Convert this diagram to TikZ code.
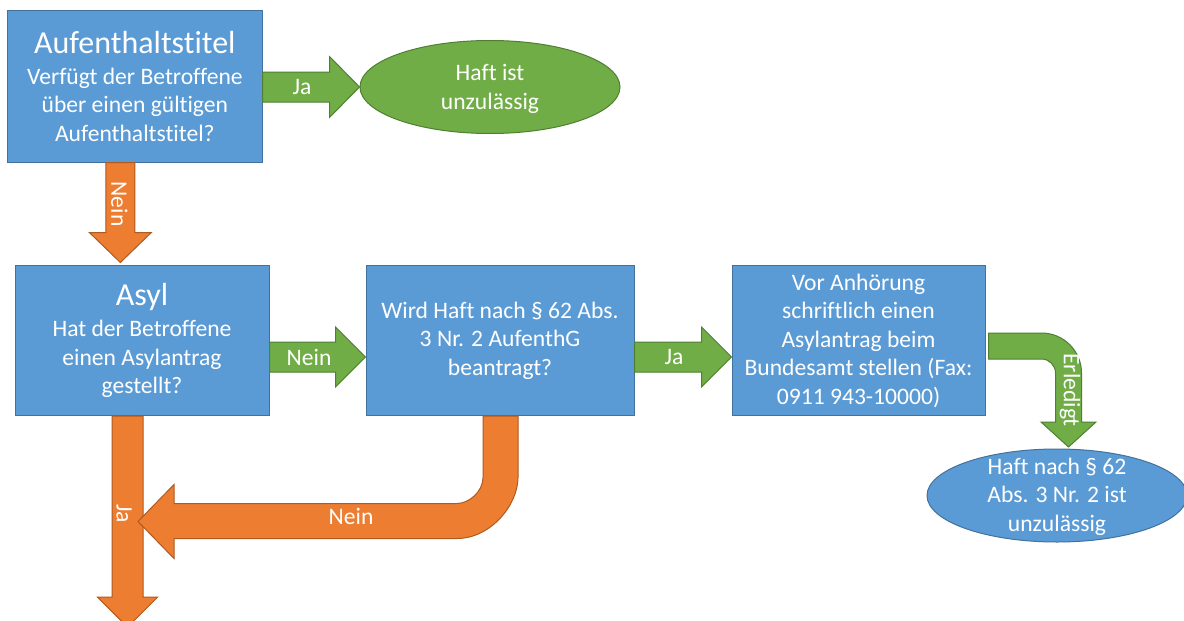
\documentclass[tikz,border=0pt]{standalone}
\usepackage{fontspec}
\setmainfont{Carlito}[Ligatures=NoCommon]
\usetikzlibrary{shapes.geometric,calc}
\definecolor{boxblue}{HTML}{5B9BD5}
\definecolor{boxblueline}{HTML}{41719C}
\definecolor{okgreen}{HTML}{70AD47}
\definecolor{okgreenline}{HTML}{507E32}
\definecolor{noorange}{HTML}{ED7D31}
\definecolor{noorangeline}{HTML}{AE5A21}

% straight block arrow pointing right: style, from, tip, half shaft, half head, head length
\newcommand{\blockright}[6]{%
  \draw[#1] let \p1=(#2), \p2=(#3) in
    (\x1,\y2-#4) -- (\x2-#6,\y2-#4) -- (\x2-#6,\y2-#5) -- (\x2,\y2)
    -- (\x2-#6,\y2+#5) -- (\x2-#6,\y2+#4) -- (\x1,\y2+#4) -- cycle;}
% straight block arrow pointing down: style, from, tip, half shaft, half head, head length
\newcommand{\blockdown}[6]{%
  \draw[#1] let \p1=(#2), \p2=(#3) in
    (\x2-#4,\y1) -- (\x2-#4,\y2+#6) -- (\x2-#5,\y2+#6) -- (\x2,\y2)
    -- (\x2+#5,\y2+#6) -- (\x2+#4,\y2+#6) -- (\x2+#4,\y1) -- cycle;}

\begin{document}
\begin{tikzpicture}[x=1pt,y=-1pt,
  body/.style={font=\fontsize{23.6}{28.5}\selectfont, text=white},
  question/.style={body, rectangle, draw=boxblueline, fill=boxblue, line width=1pt,
    align=center, inner sep=0pt},
  verdict/.style={ellipse, draw=#1line, fill=#1, line width=1pt, inner sep=0pt,
    minimum width=260pt, minimum height=93pt},
  textonly/.style={body, align=center, inner sep=0pt},
  greenarrow/.style={fill=okgreen, draw=okgreenline, line width=1pt},
  orangearrow/.style={fill=noorange, draw=noorangeline, line width=1pt},
  tag/.style={body, inner sep=0pt},
]
\useasboundingbox[fill=white] (0,0) rectangle (1184,621);

% question boxes
\node[question, minimum width=254.3pt, minimum height=151.3pt] (auf) at (134.85,86.35)
  {{\fontsize{32}{34}\selectfont Aufenthaltstitel}\\[2.5pt]
   Verfügt der Betroffene\\ über einen gültigen\\ Aufenthaltstitel?};
\node[question, minimum width=254pt, minimum height=150pt] (asyl) at (142,340.7)
  {{\fontsize{32}{34}\selectfont Asyl}\\[2.5pt]
   Hat der Betroffene\\ einen Asylantrag\\ gestellt?};
\node[question, minimum width=268pt, minimum height=150pt] (haft) at (500,340.7)
  {Wird Haft nach § 62 Abs.\\ 3 Nr. 2 AufenthG\\ beantragt?};
\node[question, minimum width=253pt, minimum height=150pt] (bamf) at (858.5,340.7)
  {Vor Anhörung\\ schriftlich einen\\ Asylantrag beim\\ Bundesamt stellen (Fax:\\ 0911 943-10000)};

% outcomes
\node[verdict=okgreen] (frei) at (490,87) {};
\node[textonly] (freitext) at (490,89) {Haft ist\\ unzulässig};
\node[verdict=boxblue] (unzul) at (1057,495.5) {};
\node[textonly] (unzultext) at (1057,496.5) {Haft nach § 62\\ Abs. 3 Nr. 2 ist\\ unzulässig};

% straight block arrows
\blockright{greenarrow}{auf.east}{frei.west}{15pt}{30.5pt}{30pt}
\blockright{greenarrow}{[yshift=-16.3pt]asyl.east}{[yshift=-16.3pt]haft.west}{15pt}{30pt}{30pt}
\blockright{greenarrow}{[yshift=-16.3pt]haft.east}{[yshift=-16.3pt]bamf.west}{15pt}{30pt}{30pt}

\coordinate (neinfrom) at ([xshift=-14.5pt]auf.south);
\coordinate (neinto) at ($(neinfrom |- asyl.north)+(0,-2.7)$);
\blockdown{orangearrow}{neinfrom}{neinto}{14.5pt}{31pt}{30pt}

\coordinate (jafrom) at ([xshift=-14.5pt]asyl.south);
\coordinate (jato) at ($(jafrom)+(0,211)$);
\blockdown{orangearrow}{jafrom}{jato}{15.5pt}{30pt}{30pt}

% bent arrow back to the left
\begin{scope}[shift={(haft.south)}]
  \draw[orangearrow] (-17,0) -- (-17,61.3)
    .. controls (-17,75.7) and (-31.4,87.3) .. (-43,87.3)
    -- (-326,87.3) -- (-326,68.3) -- (-362,105.3) -- (-326,142.3) -- (-326,122.3)
    -- (-43,122.3) .. controls (-9.3,122.3) and (18,88.6) .. (18,61.3)
    -- (18,0) -- cycle;
\end{scope}

% bent arrow down to the outcome
\begin{scope}[shift={(bamf.east)}]
  \draw[greenarrow] (3,-7.7) -- (56,-7.7)
    .. controls (78.1,-7.7) and (96,10.2) .. (96,32.3)
    -- (96,81.3) -- (110.5,81.3) -- (83,106.3) -- (55.5,81.3) -- (70,81.3)
    -- (70,32.3) .. controls (70,24.6) and (63.7,18.3) .. (56,18.3)
    -- (3,18.3) -- cycle;
\end{scope}

% arrow labels
\node[tag] (jaA) at (302,87) {Ja};
\node[tag] (neinA) at (309,357) {Nein};
\node[tag] (jaB) at (674,357) {Ja};
\node[tag, rotate=-90] (neinB) at (119.5,204) {Nein};
\node[tag, rotate=-90] (jaC) at (124,513.5) {Ja};
\node[tag] (neinC) at (351,516.5) {Nein};
\node[tag, rotate=-90] (erl) at (1070,390) {Erledigt};
\end{tikzpicture}
\end{document}
